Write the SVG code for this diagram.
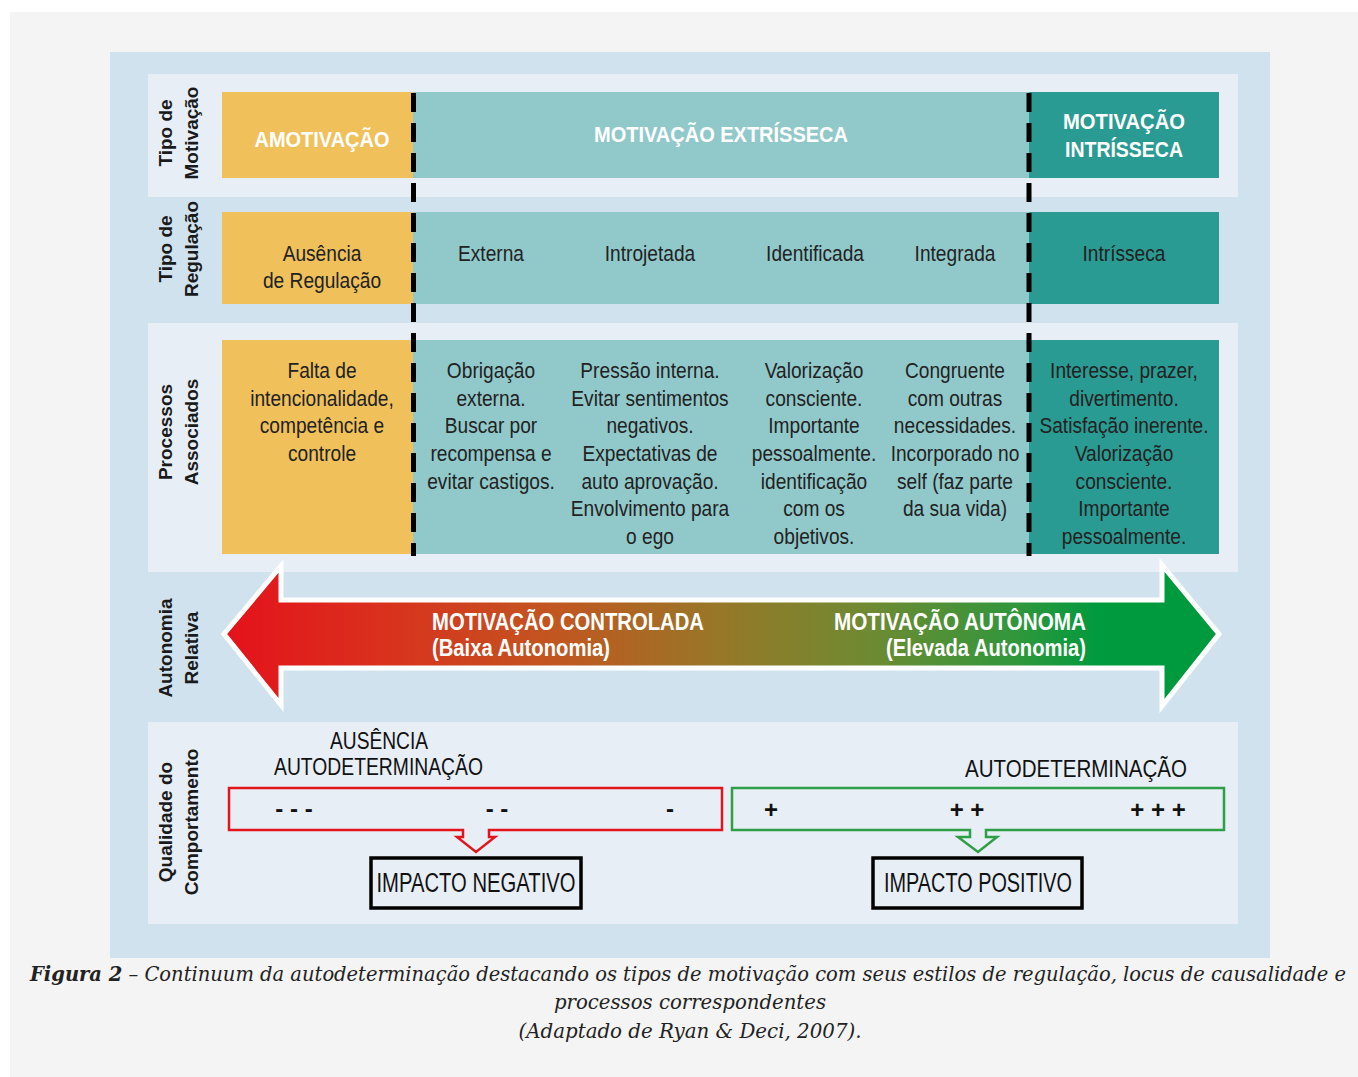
<svg xmlns="http://www.w3.org/2000/svg" width="1358" height="1077" viewBox="0 0 1358 1077">
<defs>
<style>
.lab{font-family:"Liberation Sans",Arial,sans-serif;font-weight:bold;font-size:19px;fill:#1a1a1a;text-anchor:middle}
.hd{font-family:"Liberation Sans",Arial,sans-serif;font-weight:bold;font-size:22px;fill:#ffffff;text-anchor:middle}
.r2{font-family:"Liberation Sans",Arial,sans-serif;font-size:22px;fill:#222;text-anchor:middle}
.r3{font-family:"Liberation Sans",Arial,sans-serif;font-size:21.5px;fill:#222;text-anchor:middle}
.ar{font-family:"Liberation Sans",Arial,sans-serif;font-weight:bold;font-size:24px;fill:#ffffff}
.q{font-family:"Liberation Sans",Arial,sans-serif;font-size:24px;fill:#111}
.sym{font-family:"Liberation Sans",Arial,sans-serif;font-weight:bold;font-size:24px;fill:#111;text-anchor:middle}
.imp{font-family:"Liberation Sans",Arial,sans-serif;font-size:27px;fill:#111;text-anchor:middle}
.cap{font-family:"DejaVu Serif Condensed","DejaVu Serif","Liberation Serif",serif;font-style:italic;font-size:20px;fill:#222;text-anchor:middle}
.amo{fill:#f0c15b}
.ext{fill:#91c9cb}
.int{fill:#2a9b92}
.band{fill:#e7eef6}
.div{stroke:#000;stroke-width:5;stroke-dasharray:19 11;fill:none}
</style>
<linearGradient id="grad" gradientUnits="userSpaceOnUse" x1="226" y1="0" x2="1218" y2="0">
<stop offset="0" stop-color="#e4121b"/>
<stop offset="0.15" stop-color="#da2f1d"/>
<stop offset="0.33" stop-color="#c25620"/>
<stop offset="0.5" stop-color="#967828"/>
<stop offset="0.65" stop-color="#6e8a32"/>
<stop offset="0.8" stop-color="#2f973c"/>
<stop offset="0.88" stop-color="#009a3e"/>
<stop offset="1" stop-color="#009a3e"/>
</linearGradient>
</defs>

<g id="background">
<rect x="0" y="0" width="1358" height="1077" fill="#ffffff"/>
<rect x="10" y="12" width="1348" height="1065" fill="#f4f4f4"/>
<rect x="110" y="52" width="1160" height="906" fill="#d1e2ef"/>
<rect class="band" x="148" y="74" width="1090" height="123"/>
<rect class="band" x="148" y="323" width="1090" height="249"/>
<rect class="band" x="148" y="722" width="1090" height="202"/>
</g>

<g id="row-labels">
<text class="lab" transform="translate(172,133) rotate(-90)"><tspan x="0" y="0">Tipo de</tspan><tspan x="0" y="26">Motivação</tspan></text>
<text class="lab" transform="translate(172,249) rotate(-90)"><tspan x="0" y="0">Tipo de</tspan><tspan x="0" y="26">Regulação</tspan></text>
<text class="lab" transform="translate(172,432) rotate(-90)"><tspan x="0" y="0">Processos</tspan><tspan x="0" y="26">Associados</tspan></text>
<text class="lab" transform="translate(172,648) rotate(-90)"><tspan x="0" y="0">Autonomia</tspan><tspan x="0" y="26">Relativa</tspan></text>
<text class="lab" transform="translate(172,822) rotate(-90)"><tspan x="0" y="0">Qualidade do</tspan><tspan x="0" y="26">Comportamento</tspan></text>
</g>

<g id="amotivacao">
<rect class="amo" x="222" y="92" width="191" height="86"/>
<text class="hd" x="322" y="147" textLength="135" lengthAdjust="spacingAndGlyphs">AMOTIVAÇÃO</text>
</g>
<g id="motivacao-extrinseca">
<rect class="ext" x="413" y="92" width="616" height="86"/>
<text class="hd" x="721" y="142" textLength="254" lengthAdjust="spacingAndGlyphs">MOTIVAÇÃO  EXTRÍSSECA</text>
</g>
<g id="motivacao-intrinseca">
<rect class="int" x="1029" y="92" width="190" height="86"/>
<text class="hd" x="1124" y="129" textLength="122" lengthAdjust="spacingAndGlyphs">MOTIVAÇÃO</text>
<text class="hd" x="1124" y="157" textLength="118" lengthAdjust="spacingAndGlyphs">INTRÍSSECA</text>
</g>

<g id="regulacao-ausencia">
<rect class="amo" x="222" y="212" width="191" height="92"/>
<text class="r2" transform="translate(322,261) scale(0.87,1)"><tspan x="0" y="0">Ausência</tspan><tspan x="0" y="27.5">de Regulação</tspan></text>
</g>
<g id="regulacao-extrinseca">
<rect class="ext" x="413" y="212" width="616" height="92"/>
<text class="r2" transform="translate(491,261) scale(0.87,1)">Externa</text>
<text class="r2" transform="translate(650,261) scale(0.87,1)">Introjetada</text>
<text class="r2" transform="translate(815,261) scale(0.87,1)">Identificada</text>
<text class="r2" transform="translate(955,261) scale(0.87,1)">Integrada</text>
</g>
<g id="regulacao-intrinseca">
<rect class="int" x="1029" y="212" width="190" height="92"/>
<text class="r2" transform="translate(1124,261) scale(0.87,1)">Intrísseca</text>
</g>

<g id="processos-amotivacao">
<rect class="amo" x="222" y="340" width="191" height="214"/>
<text class="r3" transform="translate(322,378) scale(0.89,1)"><tspan x="0" y="0">Falta de</tspan><tspan x="0" y="27.7">intencionalidade,</tspan><tspan x="0" y="55.4">competência e</tspan><tspan x="0" y="83.1">controle</tspan></text>
</g>
<g id="processos-extrinseca">
<rect class="ext" x="413" y="340" width="616" height="214"/>
<text class="r3" transform="translate(491,378) scale(0.89,1)"><tspan x="0" y="0">Obrigação</tspan><tspan x="0" y="27.7">externa.</tspan><tspan x="0" y="55.4">Buscar por</tspan><tspan x="0" y="83.1">recompensa e</tspan><tspan x="0" y="110.8">evitar castigos.</tspan></text>
<text class="r3" transform="translate(650,378) scale(0.89,1)"><tspan x="0" y="0">Pressão interna.</tspan><tspan x="0" y="27.7">Evitar sentimentos</tspan><tspan x="0" y="55.4">negativos.</tspan><tspan x="0" y="83.1">Expectativas de</tspan><tspan x="0" y="110.8">auto aprovação.</tspan><tspan x="0" y="138.5">Envolvimento para</tspan><tspan x="0" y="166.2">o ego</tspan></text>
<text class="r3" transform="translate(814,378) scale(0.89,1)"><tspan x="0" y="0">Valorização</tspan><tspan x="0" y="27.7">consciente.</tspan><tspan x="0" y="55.4">Importante</tspan><tspan x="0" y="83.1">pessoalmente.</tspan><tspan x="0" y="110.8">identificação</tspan><tspan x="0" y="138.5">com os</tspan><tspan x="0" y="166.2">objetivos.</tspan></text>
<text class="r3" transform="translate(955,378) scale(0.89,1)"><tspan x="0" y="0">Congruente</tspan><tspan x="0" y="27.7">com outras</tspan><tspan x="0" y="55.4">necessidades.</tspan><tspan x="0" y="83.1">Incorporado no</tspan><tspan x="0" y="110.8">self (faz parte</tspan><tspan x="0" y="138.5">da sua vida)</tspan></text>
</g>
<g id="processos-intrinseca">
<rect class="int" x="1029" y="340" width="190" height="214"/>
<text class="r3" transform="translate(1124,378) scale(0.89,1)"><tspan x="0" y="0">Interesse, prazer,</tspan><tspan x="0" y="27.7">divertimento.</tspan><tspan x="0" y="55.4">Satisfação inerente.</tspan><tspan x="0" y="83.1">Valorização</tspan><tspan x="0" y="110.8">consciente.</tspan><tspan x="0" y="138.5">Importante</tspan><tspan x="0" y="166.2">pessoalmente.</tspan></text>
</g>

<g id="connectors">
<line class="div" x1="413.5" y1="93" x2="413.5" y2="556"/>
<line class="div" x1="1029" y1="93" x2="1029" y2="556"/>
</g>

<g id="autonomia-arrow">
<polygon points="224,634 281,566 281,600 1162,600 1162,565 1219,634 1162,706 1162,668 281,668 281,705" fill="url(#grad)" stroke="#ffffff" stroke-width="5" stroke-linejoin="miter"/>
<text class="ar" x="432" y="630" textLength="272" lengthAdjust="spacingAndGlyphs">MOTIVAÇÃO CONTROLADA</text>
<text class="ar" x="432" y="656" font-size="22" textLength="178" lengthAdjust="spacingAndGlyphs">(Baixa  Autonomia)</text>
<text class="ar" x="834" y="630" textLength="252" lengthAdjust="spacingAndGlyphs">MOTIVAÇÃO AUTÔNOMA</text>
<text class="ar" x="886" y="656" font-size="22" textLength="200" lengthAdjust="spacingAndGlyphs">(Elevada  Autonomia)</text>
</g>

<g id="ausencia-autodeterminacao">
<text class="q" x="330" y="749" textLength="98" lengthAdjust="spacingAndGlyphs">AUSÊNCIA</text>
<text class="q" x="274" y="775" textLength="209" lengthAdjust="spacingAndGlyphs">AUTODETERMINAÇÃO</text>
<path d="M229,788 H722 V830 H489 V837 H495 L476,852 L457,837 H463 V830 H229 Z" fill="none" stroke="#e3151c" stroke-width="2.5"/>
<text class="sym" x="294" y="817">- - -</text>
<text class="sym" x="497" y="817">- -</text>
<text class="sym" x="670" y="817">-</text>
</g>

<g id="autodeterminacao">
<text class="q" x="965" y="777" textLength="222" lengthAdjust="spacingAndGlyphs">AUTODETERMINAÇÃO</text>
<path d="M732,788 H1224 V830 H986 V837 H997 L978,852 L958,837 H970 V830 H732 Z" fill="none" stroke="#2e9f46" stroke-width="2.5"/>
<text class="sym" x="771" y="818">+</text>
<text class="sym" x="967" y="818">+ +</text>
<text class="sym" x="1158" y="818">+ + +</text>
</g>

<g id="impacto-negativo">
<rect x="371" y="858" width="210" height="50" fill="none" stroke="#000" stroke-width="3.5"/>
<text class="imp" x="476" y="892" textLength="199" lengthAdjust="spacingAndGlyphs">IMPACTO NEGATIVO</text>
</g>
<g id="impacto-positivo">
<rect x="873" y="858" width="209" height="50" fill="none" stroke="#000" stroke-width="3.5"/>
<text class="imp" x="978" y="892" textLength="188" lengthAdjust="spacingAndGlyphs">IMPACTO POSITIVO</text>
</g>

<g id="caption">
<text class="cap" x="688" y="981" textLength="1316" lengthAdjust="spacingAndGlyphs"><tspan font-weight="bold">Figura 2</tspan> – Continuum da autodeterminação destacando os tipos de motivação com seus estilos de regulação, locus de causalidade e</text>
<text class="cap" x="690" y="1009" textLength="272" lengthAdjust="spacingAndGlyphs">processos correspondentes</text>
<text class="cap" x="690" y="1038" textLength="343" lengthAdjust="spacingAndGlyphs">(Adaptado de Ryan &amp; Deci, 2007).</text>
</g>
</svg>
